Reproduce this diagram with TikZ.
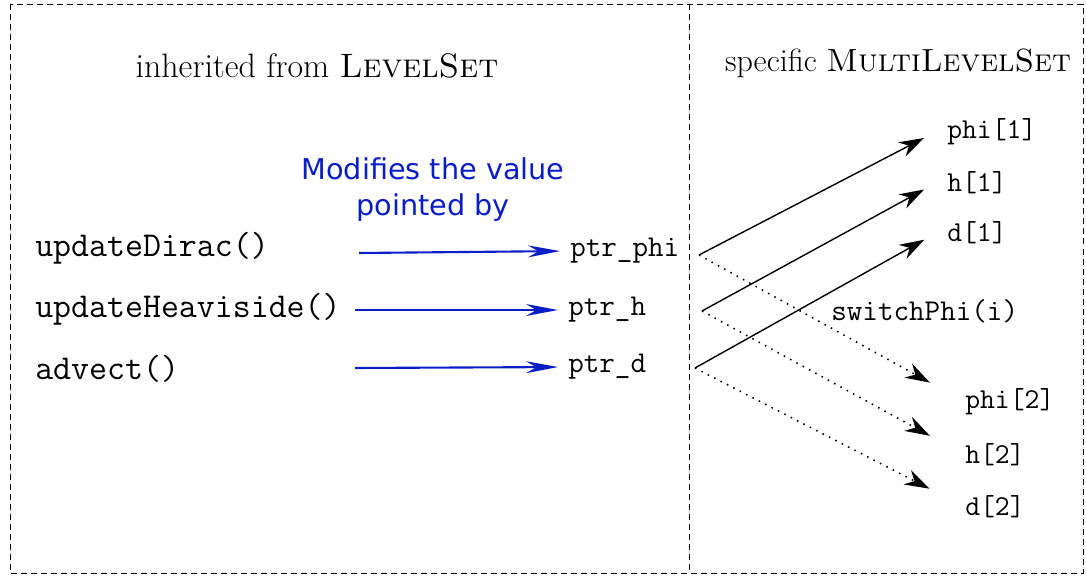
\documentclass[tikz,border=0pt]{standalone}
\usepackage{fontspec}
\newfontfamily\dejavu{DejaVu Sans}
\usetikzlibrary{arrows.meta}
\definecolor{modblue}{RGB}{10,30,200}

\begin{document}
\begin{tikzpicture}[x=0.025cm, y=-0.025cm,
  method/.style={anchor=west, inner sep=0pt, font=\fontsize{24.8}{28}\selectfont\ttfamily},
  ptr/.style={anchor=west, inner sep=0pt, font=\fontsize{21.5}{24}\selectfont\ttfamily},
  field/.style={anchor=west, inner sep=0pt, font=\fontsize{20.5}{24}\selectfont\ttfamily},
  header/.style={inner sep=0pt, font=\fontsize{22.8}{28}\selectfont},
  frame/.style={line width=0.6pt, dash pattern=on 0.15cm off 0.1cm},
  modarrow/.style={-{Stealth[length=0.8cm, width=0.3cm]}, modblue, line width=1.5pt, shorten >=0.25cm},
  setarrow/.style={-{Stealth[length=0.62cm, width=0.4cm]}, line width=1pt, shorten >=0.65cm},
  swaparrow/.style={-{Stealth[length=0.62cm, width=0.4cm]}, line width=1.1pt, dash pattern=on 1.1pt off 4pt, shorten >=1cm}]
\useasboundingbox (0,0) rectangle (1086,576);
\draw[frame] (10,4) rectangle (1083,573);
\draw[frame] (689,4) -- (689,573);

\node[header, font=\fontsize{24.1}{28}\selectfont] (inherit) at (317,66) {inherited from \textsc{LevelSet}};
\node[header] (specific) at (898,63) {specific \textsc{MultiLevelSet}};

\node[method] (updDirac) at (35,248) {updateDirac()};
\node[method] (updHeavi) at (35,309) {updateHeaviside()};
\node[method] (advect) at (35,369) {advect()};

\node[align=center, text=modblue, font=\fontsize{20.4}{25.6}\selectfont\dejavu] (modtext) at (433,190) {Modifies the value\\pointed by};

\node[ptr] (ptrphi) at (570,251) {ptr\_phi};
\node[ptr] (ptrh) at (568,310) {ptr\_h};
\node[ptr] (ptrd) at (568,367) {ptr\_d};

\coordinate (mdirac) at (359,253);
\coordinate (mheavi) at (355,310);
\coordinate (madvect) at (355,368);
\draw[modarrow] (mdirac) -- (ptrphi.west);
\draw[modarrow] (mheavi) -- (ptrh.west);
\draw[modarrow] (madvect) -- (ptrd.west);

\node[field] (phione) at (947,132) {phi[1]};
\node[field] (hone) at (947,183) {h[1]};
\node[field] (done) at (947,233) {d[1]};
\node[ptr] (switch) at (831,311) {switchPhi(i)};
\node[field] (phitwo) at (965,402) {phi[2]};
\node[field] (htwo) at (965,455) {h[2]};
\node[field] (dtwo) at (965,507) {d[2]};

\coordinate (tphi) at (699,255);
\coordinate (th) at (702,311);
\coordinate (td) at (695,368);
\draw[setarrow] (tphi) -- ([yshift=0.15cm]phione.west);
\draw[setarrow] (th) -- ([yshift=0.15cm]hone.west);
\draw[setarrow] (td) -- ([yshift=0.15cm]done.west);
\draw[swaparrow] (tphi) -- (phitwo.west);
\draw[swaparrow] (th) -- (htwo.west);
\draw[swaparrow] (td) -- (dtwo.west);
\end{tikzpicture}
\end{document}
